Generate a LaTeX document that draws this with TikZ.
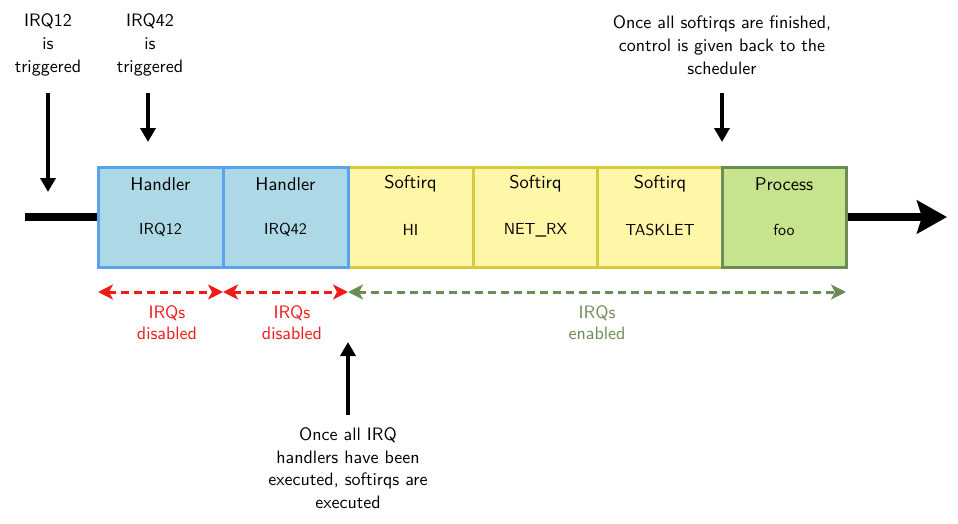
\documentclass[tikz,border=0pt]{standalone}
\usepackage{fontspec}
\newfontfamily\tensans{lmsans10-regular.otf}
\usetikzlibrary{arrows.meta}
\definecolor{bluefill}{HTML}{ADD8E6}
\definecolor{blueline}{HTML}{5AA3EC}
\definecolor{yellowfill}{HTML}{FFF7A8}
\definecolor{yellowline}{HTML}{D8CA3A}
\definecolor{greenfill}{HTML}{C6E48D}
\definecolor{greenline}{HTML}{6C8C55}
\definecolor{redc}{HTML}{F01A1A}
\begin{document}
\begin{tikzpicture}[x=1pt,y=-1pt,
  font=\tensans\fontsize{18}{23}\selectfont,
  box/.style={draw, line width=3pt, minimum height=100pt, inner sep=0pt},
  bluebox/.style={box, fill=bluefill, draw=blueline, minimum width=125pt},
  yellowbox/.style={box, fill=yellowfill, draw=yellowline, minimum width=125pt},
  greenbox/.style={box, fill=greenfill, draw=greenline, minimum width=124pt},
  title/.style={inner sep=0pt, anchor=center, font=\tensans\fontsize{18.5}{22}\selectfont},
  sub/.style={inner sep=0pt, anchor=center, font=\tensans\fontsize{16}{19}\selectfont},
  lbl/.style={align=center, inner sep=0pt},
  rlbl/.style={align=center, inner sep=0pt, font=\tensans\fontsize{18}{21}\selectfont},
  downarrow/.style={line width=3.5pt, -{Triangle[length=14pt,width=15pt]}},
  dasharrow/.style={line width=3pt, dash pattern=on 8pt off 5pt, {Stealth[length=15pt,width=15pt,inset=4pt]}-{Stealth[length=15pt,width=15pt,inset=4pt]}},
]
\useasboundingbox (0,0) rectangle (958,523);

% boxes
\node[yellowbox] (hi) at (410.5,217) {};
\node[yellowbox] (net) at (535.5,217) {};
\node[yellowbox] (task) at (660,217) {};
\node[bluebox] (h12) at (160.5,217) {};
\node[bluebox] (h42) at (285.5,217) {};
\node[greenbox] (foo) at (784,217) {};

\node[title] (t1) at (160.5,184) {Handler};
\node[sub]   (s1) at (160.5,230) {IRQ12};
\node[title] (t2) at (285.5,184) {Handler};
\node[sub]   (s2) at (285.5,230) {IRQ42};
\node[title] (t3) at (410.5,184) {Softirq};
\node[sub]   (s3) at (410.5,230) {HI};
\node[title] (t4) at (535.5,184) {Softirq};
\node[sub]   (s4) at (535.5,230) {NET\_RX};
\node[title] (t5) at (660,184) {Softirq};
\node[sub]   (s5) at (660,230) {TASKLET};
\node[title] (t6) at (784,184) {Process};
\node[sub]   (s6) at (784,230) {foo};

% timeline
\coordinate (start) at (25,217);
\coordinate (finish) at (947,217);
\draw[line width=8.5pt] (start) -- (h12.west);
\draw[line width=8.5pt, -{Stealth[length=30pt,width=33pt,inset=5pt]}] (foo.east) -- (finish);

% top labels
\node[lbl] (l12) at (48,45) {IRQ12\\is\\triggered};
\node[lbl] (l42) at (150,45) {IRQ42\\is\\triggered};
\node[lbl] (lsch) at (722,45) {Once all softirqs are finished,\\control is given back to the\\scheduler};
\coordinate (a12s) at (48,93);
\coordinate (a12e) at (48,192);
\coordinate (a42s) at (148,93);
\coordinate (a42e) at (148,142);
\coordinate (asch) at (722,93);
\coordinate (asche) at (722,142);
\draw[downarrow] (a12s) -- (a12e);
\draw[downarrow] (a42s) -- (a42e);
\draw[downarrow] (asch) -- (asche);

% dashed ranges
\coordinate (d0) at (98,292);
\coordinate (d1) at (223,292);
\coordinate (d2) at (348,292);
\coordinate (d3) at (846,292);
\draw[dasharrow, redc] (d0) -- (d1);
\draw[dasharrow, redc] (d1) -- (d2);
\draw[dasharrow, greenline] (d2) -- (d3);
\node[rlbl, text=redc] (r1) at (167,323) {IRQs\\disabled};
\node[rlbl, text=redc] (r2) at (292,323) {IRQs\\disabled};
\node[rlbl, text=greenline] (g1) at (597,323) {IRQs\\enabled};

% bottom note
\node[lbl, font=\tensans\fontsize{18}{22.5}\selectfont] (note) at (348,468) {Once all IRQ\\handlers have been\\executed, softirqs are\\executed};
\coordinate (ab) at (348,415);
\coordinate (abe) at (348,342);
\draw[downarrow] (ab) -- (abe);
\end{tikzpicture}
\end{document}
